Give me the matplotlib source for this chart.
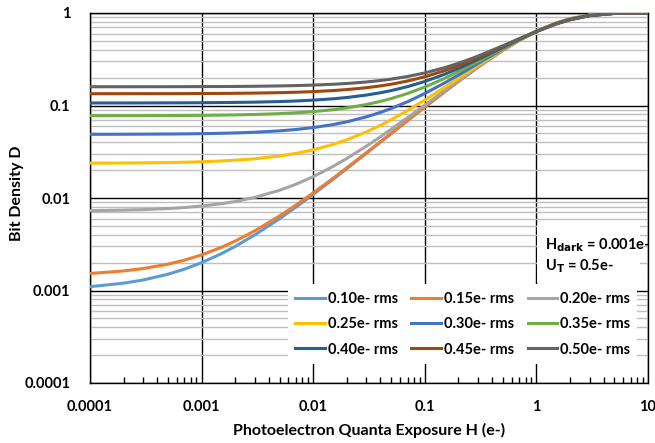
import matplotlib.pyplot as plt
from matplotlib.patches import Rectangle

plt.rcParams['font.family'] = ['Lato', 'DejaVu Sans']
plt.rcParams['font.weight'] = 'bold'

exposure = [1e-4, 2e-4, 3e-4, 5e-4, 7e-4, 1e-3, 1.5e-3, 2e-3, 3e-3, 5e-3, 7e-3, 1e-2,
            1.5e-2, 2e-2, 3e-2, 4e-2, 5e-2, 0.07, 0.1, 0.15, 0.2, 0.3, 0.5, 0.7,
            1, 1.5, 2, 3, 5, 7, 10]

# bit density D for each read noise
d_010 = [0.0011, 0.0012, 0.001299, 0.0015, 0.001699, 0.002, 0.002497, 0.002996, 0.003992,
         0.005982, 0.007968, 0.01094, 0.01587, 0.02078, 0.03052, 0.04017, 0.04972, 0.06854,
         0.09607, 0.1402, 0.1821, 0.2599, 0.3941, 0.5039, 0.6324, 0.7771, 0.8648, 0.9503,
         0.9933, 0.9991, 0.99995]
d_015 = [0.001527, 0.001627, 0.001727, 0.001927, 0.002127, 0.002425, 0.002924, 0.003422,
         0.004418, 0.006406, 0.00839, 0.01136, 0.01629, 0.02119, 0.03092, 0.04057, 0.05011,
         0.06891, 0.09642, 0.1405, 0.1824, 0.2602, 0.3942, 0.504, 0.6324, 0.777, 0.8647,
         0.9502, 0.9933, 0.9991, 0.99995]
d_020 = [0.007295, 0.007394, 0.007493, 0.00769, 0.007888, 0.008183, 0.008676, 0.009169,
         0.01015, 0.01212, 0.01408, 0.01701, 0.02189, 0.02673, 0.03635, 0.04589, 0.05532,
         0.07391, 0.1011, 0.1447, 0.1861, 0.2631, 0.3959, 0.5048, 0.6324, 0.7764, 0.864,
         0.9496, 0.9931, 0.9991, 0.99995]
d_025 = [0.0238, 0.02389, 0.02399, 0.02418, 0.02437, 0.02466, 0.02513, 0.02561, 0.02656,
         0.02846, 0.03036, 0.03319, 0.0379, 0.04259, 0.05189, 0.06111, 0.07024, 0.08823,
         0.1146, 0.1568, 0.197, 0.2717, 0.4009, 0.5073, 0.6324, 0.7745, 0.8617, 0.948,
         0.9927, 0.999, 0.99994]
d_030 = [0.04879, 0.04888, 0.04898, 0.04916, 0.04934, 0.04961, 0.05006, 0.05051, 0.05141,
         0.05321, 0.05501, 0.0577, 0.06216, 0.0666, 0.07543, 0.08417, 0.09283, 0.1099,
         0.1349, 0.175, 0.2133, 0.2847, 0.4085, 0.511, 0.6323, 0.7717, 0.8583, 0.9455,
         0.992, 0.9988, 0.99993]
d_035 = [0.07753, 0.07762, 0.0777, 0.07787, 0.07804, 0.07829, 0.07872, 0.07914, 0.07998,
         0.08167, 0.08335, 0.08587, 0.09005, 0.09421, 0.1025, 0.1107, 0.1188, 0.1348,
         0.1583, 0.1961, 0.2321, 0.2996, 0.4172, 0.5153, 0.6323, 0.7685, 0.8544, 0.9426,
         0.9912, 0.9987, 0.99992]
d_040 = [0.1065, 0.1065, 0.1066, 0.1068, 0.1069, 0.1072, 0.1076, 0.108, 0.1087, 0.1103,
         0.1119, 0.1142, 0.1181, 0.122, 0.1297, 0.1374, 0.145, 0.1599, 0.1819, 0.2172,
         0.2511, 0.3146, 0.426, 0.5196, 0.6323, 0.7653, 0.8505, 0.9398, 0.9904, 0.9985,
         0.99991]
d_045 = [0.1341, 0.1342, 0.1343, 0.1344, 0.1345, 0.1348, 0.1351, 0.1355, 0.1362, 0.1377,
         0.1391, 0.1413, 0.145, 0.1486, 0.1557, 0.1629, 0.1699, 0.1839, 0.2044, 0.2375,
         0.2692, 0.3289, 0.4344, 0.5237, 0.6323, 0.7622, 0.8468, 0.937, 0.9897, 0.9984,
         0.9999]
d_050 = [0.1595, 0.1595, 0.1596, 0.1597, 0.1599, 0.1601, 0.1604, 0.1607, 0.1614, 0.1628,
         0.1641, 0.1662, 0.1696, 0.1729, 0.1796, 0.1863, 0.1928, 0.2059, 0.225, 0.256,
         0.2858, 0.342, 0.4421, 0.5275, 0.6323, 0.7594, 0.8433, 0.9345, 0.989, 0.9982,
         0.99989]

series = [d_010, d_015, d_020, d_025, d_030, d_035, d_040, d_045, d_050]
labels = ['0.10e- rms', '0.15e- rms', '0.20e- rms', '0.25e- rms', '0.30e- rms',
          '0.35e- rms', '0.40e- rms', '0.45e- rms', '0.50e- rms']
colors = ['#5B9BD5', '#ED7D31', '#A5A5A5', '#FFC000', '#4472C4',
          '#70AD47', '#255E91', '#9E480E', '#636363']

fig = plt.figure(figsize=(6.55, 4.43), dpi=100)
ax = fig.add_axes([90 / 655, 60 / 443, 558 / 655, 370 / 443])

handles = []
for vals, lab, col in zip(series, labels, colors):
    ln, = ax.plot(exposure, vals, color=col, lw=2.2, label=lab, zorder=3)
    handles.append(ln)

ax.set_xscale('log')
ax.set_yscale('log')
ax.set_xlim(1e-4, 10)
ax.set_ylim(1e-4, 1)

# grid: black decades, gray minor horizontals
ax.grid(True, which='major', color='black', lw=1.0, zorder=0)
ax.grid(True, which='minor', axis='y', color='#BFBFBF', lw=1.0, zorder=0)
ax.grid(False, which='minor', axis='x')
ax.set_axisbelow(True)

ax.set_xticks([1e-4, 1e-3, 1e-2, 1e-1, 1, 10])
ax.set_xticklabels(['0.0001', '0.001', '0.01', '0.1', '1', '10'])
ax.set_yticks([1e-4, 1e-3, 1e-2, 1e-1, 1])
ax.set_yticklabels(['0.0001', '0.001', '0.01', '0.1', '1'])
ax.tick_params(axis='both', which='major', length=0, labelsize=10.5, pad=12)
ax.tick_params(axis='x', which='minor', direction='in', length=4, width=1, color='black')
ax.tick_params(axis='y', which='minor', length=0)
ax.tick_params(axis='y', which='major', pad=14)

for sp in ax.spines.values():
    sp.set_color('black')
    sp.set_linewidth(1.0)

ax.set_xlabel('Photoelectron Quanta Exposure H (e-)', fontsize=11.5, fontweight='bold', labelpad=7)
# y label placed by hand, the wide tick labels push it off the figure otherwise
fig.text(17 / 655, 1 - 193 / 443, 'Bit Density D', rotation=90, fontsize=11.5,
         fontweight='bold', ha='center', va='center')

# annotation box
ax.add_patch(Rectangle((0.801, 0.273), 0.185, 0.154, transform=ax.transAxes,
                       facecolor='white', edgecolor='none', zorder=2))
ax.text(0.816, 0.373, r'H$_{\mathbf{dark}}$ = 0.001e-', transform=ax.transAxes,
        fontsize=10.5, fontweight='bold', va='center', ha='left', zorder=4)
ax.text(0.816, 0.316, r'U$_{\mathbf{T}}$ = 0.5e-', transform=ax.transAxes,
        fontsize=10.5, fontweight='bold', va='center', ha='left', zorder=4)

# legend filled row by row, like the reference
order = [0, 3, 6, 1, 4, 7, 2, 5, 8]
leg = ax.legend([handles[i] for i in order], [labels[i] for i in order],
                loc='upper left', bbox_to_anchor=(0.342, 0.286), ncol=3,
                fontsize=10.5, frameon=True, fancybox=False, framealpha=1,
                facecolor='white', edgecolor='none', handlelength=2.05,
                handletextpad=0.15, columnspacing=0.95, labelspacing=0.78,
                borderpad=0.5)
leg.set_zorder(5)

fig.savefig('out.png', dpi=100)
